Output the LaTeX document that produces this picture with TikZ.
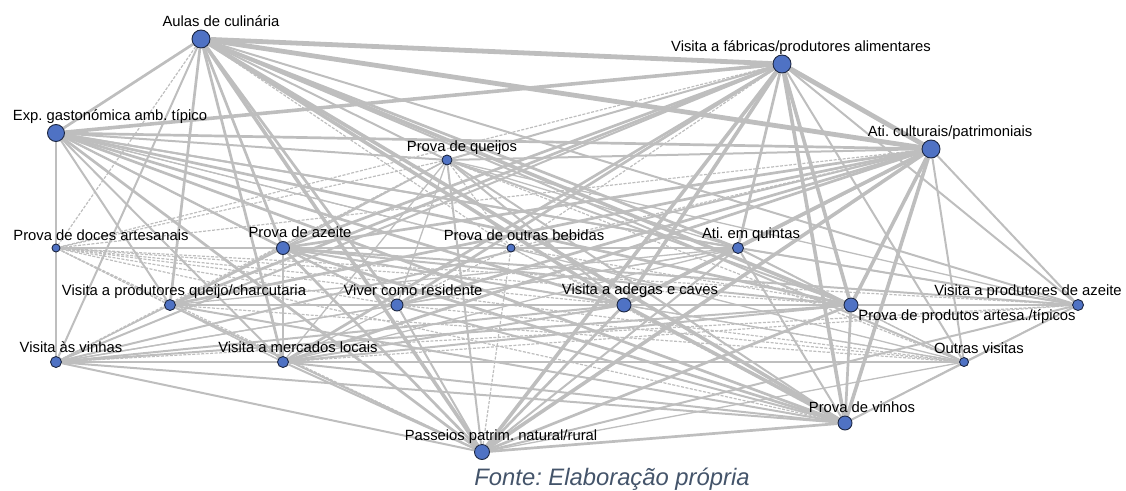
\documentclass[tikz,border=0pt]{standalone}
\usepackage{fontspec}
\setmainfont{Liberation Sans}
\usepackage{tikz}
\usetikzlibrary{positioning,backgrounds}

\definecolor{nodeblue}{RGB}{79,114,196}
\definecolor{nodeedge}{RGB}{28,38,64}
\definecolor{linkgray}{RGB}{190,190,190}
\definecolor{captiongray}{RGB}{68,84,106}

\tikzset{
  vertex/.style={circle, draw=nodeedge, fill=nodeblue, line width=0.9pt, inner sep=0pt},
  lbl/.style={inner sep=0pt, text height=0.72em, text depth=0.22em, font=\fontsize{14.8}{16}\selectfont},
  link1/.style={draw=linkgray, line width=1.3pt},
  link2/.style={draw=linkgray, line width=2pt},
  link3/.style={draw=linkgray, line width=2.7pt},
  link4/.style={draw=linkgray, line width=3.6pt},
  link5/.style={draw=linkgray, line width=4.8pt},
  weaklink/.style={draw=linkgray, line width=1.2pt, dash pattern=on 3pt off 1.5pt}
}

\begin{document}
\frenchspacing
\begin{tikzpicture}[x=1pt, y=-1pt]
\useasboundingbox (0,0) rectangle (1126,490);

% Activities
\node[vertex, minimum size=18pt] (aulas) at (201,39) {};
\node[vertex, minimum size=18pt] (fabricas) at (782,64) {};
\node[vertex, minimum size=18pt] (culturais) at (931,149) {};
\node[vertex, minimum size=17pt] (exp) at (56,133) {};
\node[vertex, minimum size=10pt] (queijos) at (447,160) {};
\node[vertex, minimum size=8pt] (doces) at (56,248) {};
\node[vertex, minimum size=13pt] (azeite) at (283,248) {};
\node[vertex, minimum size=8pt] (bebidas) at (511,248) {};
\node[vertex, minimum size=11pt] (quintas) at (738,248) {};
\node[vertex, minimum size=11pt] (prodqueijo) at (170,305) {};
\node[vertex, minimum size=12pt] (residente) at (397,305) {};
\node[vertex, minimum size=14pt] (adegas) at (624,305) {};
\node[vertex, minimum size=14pt] (artesa) at (851,305) {};
\node[vertex, minimum size=11pt] (prodazeite) at (1078,305) {};
\node[vertex, minimum size=11pt] (vinhas) at (56,362) {};
\node[vertex, minimum size=11pt] (mercados) at (283,362) {};
\node[vertex, minimum size=9pt] (outras) at (964,362) {};
\node[vertex, minimum size=14pt] (vinhos) at (845,423) {};
\node[vertex, minimum size=15pt] (passeios) at (482,452) {};

% Labels
\node[lbl, above=1pt of aulas, xshift=20pt] (aulaslbl) {Aulas de culinária};
\node[lbl, above=1pt of fabricas, xshift=19pt] (fabricaslbl) {Visita a fábricas/produtores alimentares};
\node[lbl, above=1pt of culturais, xshift=19pt] (culturaislbl) {Ati. culturais/patrimoniais};
\node[lbl, above=1pt of exp, xshift=54pt] (explbl) {Exp. gastonómica amb. típico};
\node[lbl, above=1pt of queijos, xshift=15pt] (queijoslbl) {Prova de queijos};
\node[lbl, above=1pt of doces, xshift=45pt] (doceslbl) {Prova de doces artesanais};
\node[lbl, above=1pt of azeite, xshift=17pt] (azeitelbl) {Prova de azeite};
\node[lbl, above=1pt of bebidas, xshift=13pt] (bebidaslbl) {Prova de outras bebidas};
\node[lbl, above=1pt of quintas, xshift=13pt] (quintaslbl) {Ati. em quintas};
\node[lbl, above=1pt of prodqueijo, xshift=14pt] (prodqueijolbl) {Visita a produtores queijo/charcutaria};
\node[lbl, above=1pt of residente, xshift=16pt] (residentelbl) {Viver como residente};
\node[lbl, above=1pt of adegas, xshift=16pt] (adegaslbl) {Visita a adegas e caves};
\node[lbl, below=1pt of artesa, xshift=116pt] (artesalbl) {Prova de produtos artesa./típicos};
\node[lbl, above=1pt of prodazeite, xshift=-50pt] (prodazeitelbl) {Visita a produtores de azeite};
\node[lbl, above=1pt of vinhas, xshift=15pt] (vinhaslbl) {Visita às vinhas};
\node[lbl, above=1pt of mercados, xshift=15pt] (mercadoslbl) {Visita a mercados locais};
\node[lbl, above=1pt of outras, xshift=15pt] (outraslbl) {Outras visitas};
\node[lbl, above=1pt of vinhos, xshift=17pt] (vinhoslbl) {Prova de vinhos};
\node[lbl, above=1pt of passeios, xshift=19pt] (passeioslbl) {Passeios patrim. natural/rural};

% Source
\node[anchor=base, inner sep=0pt, text=captiongray, font=\fontsize{23.8}{26}\selectfont\itshape] (fonte) at (612,485) {Fonte: Elaboração própria};

\begin{scope}[on background layer]
% Aulas connections
\draw[link5] (aulas) -- (fabricas);
\draw[link5] (aulas) -- (culturais);
\draw[link3] (aulas) -- (exp);
\draw[link4] (aulas) -- (passeios);
\draw[link4] (aulas) -- (vinhos);
\draw[link4] (aulas) -- (adegas);
\draw[link4] (aulas) -- (artesa);
\draw[link3] (aulas) -- (azeite);
\draw[link3] (aulas) -- (residente);
\draw[link3] (aulas) -- (quintas);
\draw[link2] (aulas) -- (queijos);
\draw[link3] (aulas) -- (prodqueijo);
\draw[link3] (aulas) -- (mercados);
\draw[link2] (aulas) -- (vinhas);
\draw[link2] (aulas) -- (prodazeite);
\draw[link2] (aulas) -- (outras);
\draw[weaklink] (aulas) -- (doces);
\draw[weaklink] (aulas) -- (bebidas);

% Visita a fabricas connections
\draw[link5] (fabricas) -- (culturais);
\draw[link4] (fabricas) -- (exp);
\draw[link4] (fabricas) -- (passeios);
\draw[link4] (fabricas) -- (vinhos);
\draw[link4] (fabricas) -- (adegas);
\draw[link4] (fabricas) -- (artesa);
\draw[link3] (fabricas) -- (azeite);
\draw[link3] (fabricas) -- (residente);
\draw[link3] (fabricas) -- (quintas);
\draw[link2] (fabricas) -- (queijos);
\draw[link3] (fabricas) -- (prodqueijo);
\draw[link3] (fabricas) -- (mercados);
\draw[link2] (fabricas) -- (vinhas);
\draw[link2] (fabricas) -- (prodazeite);
\draw[link2] (fabricas) -- (outras);
\draw[weaklink] (fabricas) -- (doces);
\draw[weaklink] (fabricas) -- (bebidas);

% Ati. culturais connections
\draw[link3] (culturais) -- (exp);
\draw[link4] (culturais) -- (passeios);
\draw[link4] (culturais) -- (vinhos);
\draw[link4] (culturais) -- (adegas);
\draw[link4] (culturais) -- (artesa);
\draw[link3] (culturais) -- (azeite);
\draw[link3] (culturais) -- (residente);
\draw[link3] (culturais) -- (quintas);
\draw[link2] (culturais) -- (queijos);
\draw[link3] (culturais) -- (prodqueijo);
\draw[link3] (culturais) -- (mercados);
\draw[link2] (culturais) -- (vinhas);
\draw[link2] (culturais) -- (prodazeite);
\draw[link2] (culturais) -- (outras);
\draw[weaklink] (culturais) -- (doces);
\draw[weaklink] (culturais) -- (bebidas);

% Exp. gastronomica connections
\draw[link3] (exp) -- (passeios);
\draw[link3] (exp) -- (vinhos);
\draw[link3] (exp) -- (adegas);
\draw[link3] (exp) -- (artesa);
\draw[link2] (exp) -- (azeite);
\draw[link2] (exp) -- (residente);
\draw[link2] (exp) -- (quintas);
\draw[link2] (exp) -- (queijos);
\draw[link2] (exp) -- (prodqueijo);
\draw[link2] (exp) -- (mercados);
\draw[link2] (exp) -- (vinhas);
\draw[link2] (exp) -- (prodazeite);
\draw[link1] (exp) -- (outras);
\draw[link2] (exp) -- (doces);
\draw[weaklink] (exp) -- (bebidas);

% Passeios connections
\draw[link3] (passeios) -- (vinhos);
\draw[link3] (passeios) -- (adegas);
\draw[link3] (passeios) -- (artesa);
\draw[link3] (passeios) -- (azeite);
\draw[link2] (passeios) -- (residente);
\draw[link2] (passeios) -- (quintas);
\draw[link2] (passeios) -- (queijos);
\draw[link2] (passeios) -- (prodqueijo);
\draw[link2] (passeios) -- (mercados);
\draw[link2] (passeios) -- (vinhas);
\draw[link2] (passeios) -- (prodazeite);
\draw[link1] (passeios) -- (outras);
\draw[weaklink] (passeios) -- (doces);
\draw[weaklink] (passeios) -- (bebidas);

% Prova de vinhos connections
\draw[link4] (vinhos) -- (adegas);
\draw[link3] (vinhos) -- (artesa);
\draw[link3] (vinhos) -- (azeite);
\draw[link2] (vinhos) -- (residente);
\draw[link2] (vinhos) -- (quintas);
\draw[link2] (vinhos) -- (queijos);
\draw[link2] (vinhos) -- (prodqueijo);
\draw[link2] (vinhos) -- (mercados);
\draw[link2] (vinhos) -- (vinhas);
\draw[link2] (vinhos) -- (prodazeite);
\draw[link1] (vinhos) -- (outras);
\draw[weaklink] (vinhos) -- (doces);
\draw[weaklink] (vinhos) -- (bebidas);

% Visita a adegas connections
\draw[link3] (adegas) -- (artesa);
\draw[link2] (adegas) -- (azeite);
\draw[link2] (adegas) -- (residente);
\draw[link2] (adegas) -- (quintas);
\draw[link2] (adegas) -- (queijos);
\draw[link2] (adegas) -- (prodqueijo);
\draw[link2] (adegas) -- (mercados);
\draw[link2] (adegas) -- (vinhas);
\draw[link2] (adegas) -- (prodazeite);
\draw[link1] (adegas) -- (outras);
\draw[weaklink] (adegas) -- (doces);
\draw[weaklink] (adegas) -- (bebidas);

% Prova de produtos artesanais connections
\draw[link2] (artesa) -- (azeite);
\draw[link2] (artesa) -- (residente);
\draw[link2] (artesa) -- (quintas);
\draw[link2] (artesa) -- (queijos);
\draw[link2] (artesa) -- (prodqueijo);
\draw[link2] (artesa) -- (mercados);
\draw[link2] (artesa) -- (vinhas);
\draw[link2] (artesa) -- (prodazeite);
\draw[link1] (artesa) -- (outras);
\draw[weaklink] (artesa) -- (doces);
\draw[weaklink] (artesa) -- (bebidas);

% Prova de azeite connections
\draw[link2] (azeite) -- (residente);
\draw[link2] (azeite) -- (quintas);
\draw[link1] (azeite) -- (queijos);
\draw[link2] (azeite) -- (prodqueijo);
\draw[link1] (azeite) -- (mercados);
\draw[link1] (azeite) -- (vinhas);
\draw[link2] (azeite) -- (prodazeite);
\draw[weaklink] (azeite) -- (outras);
\draw[weaklink] (azeite) -- (doces);
\draw[weaklink] (azeite) -- (bebidas);

% Viver como residente connections
\draw[link1] (residente) -- (quintas);
\draw[link1] (residente) -- (queijos);
\draw[link2] (residente) -- (prodqueijo);
\draw[link1] (residente) -- (mercados);
\draw[link1] (residente) -- (vinhas);
\draw[link1] (residente) -- (prodazeite);
\draw[weaklink] (residente) -- (outras);
\draw[weaklink] (residente) -- (doces);
\draw[weaklink] (residente) -- (bebidas);

% Ati. em quintas connections
\draw[link1] (quintas) -- (queijos);
\draw[link1] (quintas) -- (prodqueijo);
\draw[link1] (quintas) -- (mercados);
\draw[link1] (quintas) -- (vinhas);
\draw[link1] (quintas) -- (prodazeite);
\draw[weaklink] (quintas) -- (outras);
\draw[weaklink] (quintas) -- (doces);
\draw[weaklink] (quintas) -- (bebidas);

% Remaining connections
\draw[link1] (queijos) -- (prodqueijo);
\draw[link1] (queijos) -- (mercados);
\draw[weaklink] (queijos) -- (vinhas);
\draw[link1] (queijos) -- (prodazeite);
\draw[weaklink] (queijos) -- (outras);
\draw[weaklink] (queijos) -- (doces);
\draw[weaklink] (queijos) -- (bebidas);
\draw[link1] (prodqueijo) -- (mercados);
\draw[link1] (prodqueijo) -- (vinhas);
\draw[link1] (prodqueijo) -- (prodazeite);
\draw[weaklink] (prodqueijo) -- (outras);
\draw[weaklink] (prodqueijo) -- (doces);
\draw[link1] (mercados) -- (vinhas);
\draw[weaklink] (mercados) -- (prodazeite);
\draw[weaklink] (mercados) -- (outras);
\draw[weaklink] (mercados) -- (doces);
\draw[weaklink] (vinhas) -- (prodazeite);
\draw[weaklink] (vinhas) -- (outras);
\draw[link1] (vinhas) -- (doces);
\draw[link1] (prodazeite) -- (outras);
\draw[weaklink] (prodazeite) -- (doces);
\draw[weaklink] (outras) -- (doces);
\draw[weaklink] (bebidas) -- (doces);
\end{scope}

\end{tikzpicture}
\end{document}
